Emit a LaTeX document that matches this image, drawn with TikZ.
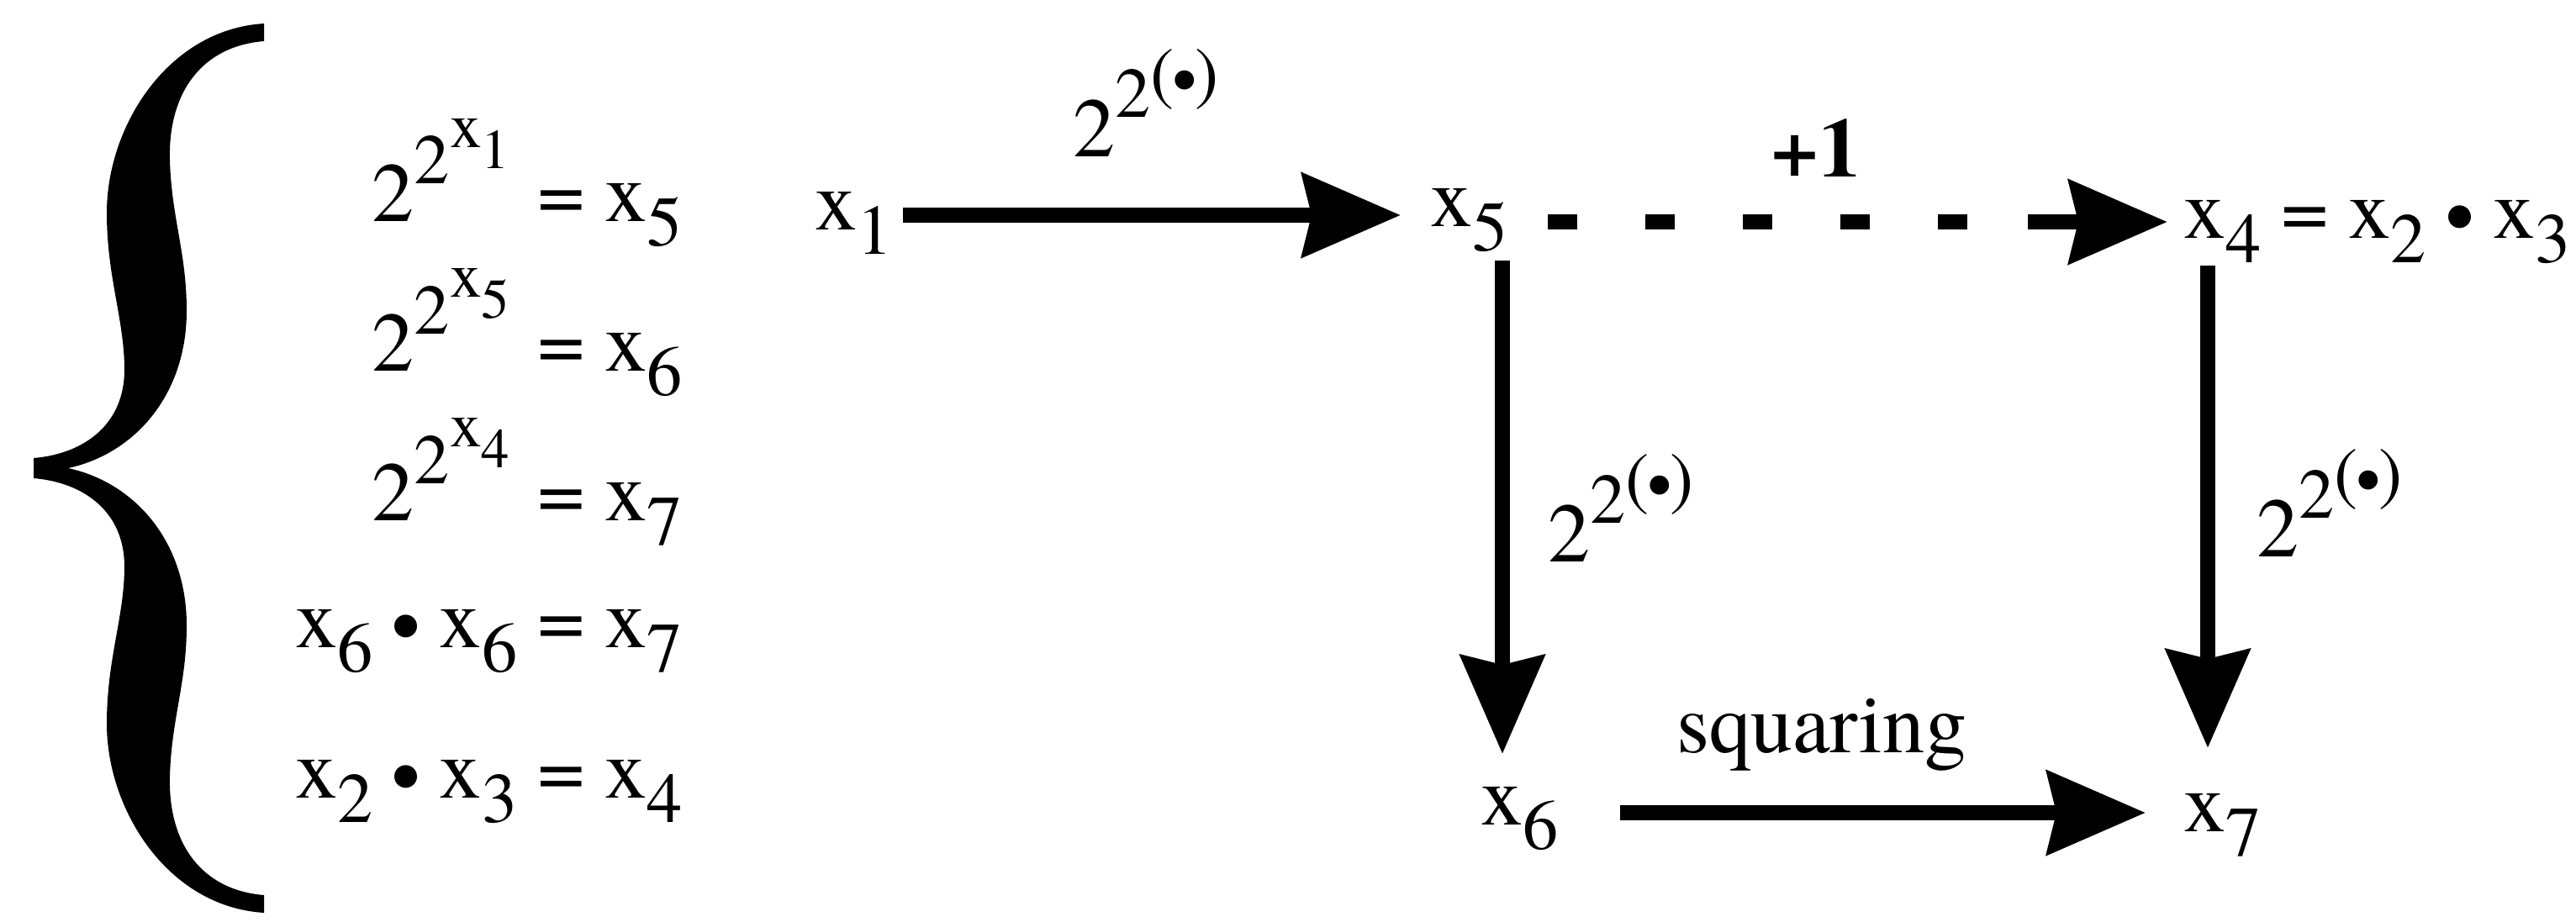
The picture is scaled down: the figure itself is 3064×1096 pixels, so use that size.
\documentclass[tikz,border=0pt]{standalone}
\usepackage{fontspec}
\IfFontExistsTF{texgyretermes-regular.otf}
  {\setmainfont{texgyretermes-regular.otf}[BoldFont=texgyretermes-bold.otf]}
  {\setmainfont{Liberation Serif}}
\usetikzlibrary{arrows.meta}
\newdimen\pxu \pxu=0.1mm
\newcommand{\fA}{\fontsize{28.5pt}{30pt}\selectfont}
\newcommand{\fB}{\fontsize{24pt}{26pt}\selectfont}
\newcommand{\fC}{\fontsize{21.5pt}{23pt}\selectfont}
\newcommand{\fD}{\fontsize{19pt}{21pt}\selectfont}
\newcommand{\vx}[1]{x\raisebox{-29\pxu}{\fB #1}}
\newcommand{\bul}{\raisebox{-8\pxu}{•}}
\newcommand{\tower}[1]{2\raisebox{44\pxu}{\fB 2\raisebox{44\pxu}{\fC x\raisebox{-25\pxu}{\fD #1}}}}
\newcommand{\tlabel}{2\raisebox{46\pxu}{\fB 2\raisebox{25\pxu}{(\kern-2\pxu\bul\kern-2\pxu)}}}
\tikzset{
  txt/.style={inner sep=0pt, outer sep=0pt, anchor=base west, font=\fA},
  eqrow/.style={inner sep=0pt, outer sep=0pt, anchor=base east, font=\fA},
  arr/.style={line width=1.8mm, -{Stealth[length=11.7mm, width=9.9mm, inset=1.1mm]}},
  dashline/.style={line width=1.8mm, dash pattern=on 3.5mm off 8.1mm}
}
\begin{document}
\begin{tikzpicture}[x=0.1mm, y=-0.1mm]
\useasboundingbox (0,0) rectangle (3064,1096);
% brace
\fill (40,545) .. controls (100,540) and (148,505) .. (148,440)
  .. controls (148,380) and (127,330) .. (127,253)
  .. controls (127,150) and (200,35) .. (314,28) -- (314,49)
  .. controls (240,55) and (200,110) .. (202,190)
  .. controls (204,260) and (222,300) .. (222,370)
  .. controls (222,470) and (160,540) .. (81,557)
  .. controls (160,574) and (222,644) .. (222,744)
  .. controls (222,814) and (204,854) .. (202,924)
  .. controls (200,1004) and (240,1059) .. (314,1065) -- (314,1086)
  .. controls (200,1079) and (127,964) .. (127,861)
  .. controls (127,784) and (148,734) .. (148,674)
  .. controls (148,609) and (100,574) .. (40,569) -- cycle;
% equations
\node[eqrow] (r1) at (812,263) {\tower{1}\hspace{33\pxu}=\hspace{24\pxu}\vx{5}};
\node[eqrow] (r2) at (812,441) {\tower{5}\hspace{33\pxu}=\hspace{24\pxu}\vx{6}};
\node[eqrow] (r3) at (812,619) {\tower{4}\hspace{33\pxu}=\hspace{24\pxu}\vx{7}};
\node[eqrow] (r4) at (812,770) {\vx{6}\hspace{22\pxu}\bul\hspace{22\pxu}\vx{6}\hspace{24\pxu}=\hspace{24\pxu}\vx{7}};
\node[eqrow] (r5) at (812,949) {\vx{2}\hspace{22\pxu}\bul\hspace{22\pxu}\vx{3}\hspace{24\pxu}=\hspace{24\pxu}\vx{4}};
% diagram nodes
\node[txt] (x1) at (969,273) {\vx{1}};
\node[txt] (x5) at (1701,269) {\vx{5}};
\node[txt] (x4) at (2597,283) {\vx{4}\hspace{24\pxu}=\hspace{24\pxu}\vx{2}\hspace{22\pxu}\bul\hspace{22\pxu}\vx{3}};
\node[txt] (x6) at (1761,981) {\vx{6}};
\node[txt] (x7) at (2597,989) {\vx{7}};
% labels
\node[txt] (l1) at (1276,186) {\tlabel};
\node[txt] (l2) at (2106,210) {\bfseries +1};
\node[txt] (l3) at (1841,668) {\tlabel};
\node[txt] (l4) at (2684,662) {\tlabel};
\node[txt] (l5) at (1994,895) {squaring};
% connectors
\draw[arr] ([shift={(105,-17)}]x1.base west) -- ([shift={(-35,-13)}]x5.base west);
\coordinate (dp) at ([shift={(-185,-19)}]x4.base west);
\draw[dashline] ([shift={(140,-5)}]x5.base west) -- (dp);
\draw[arr] (dp) -- ([shift={(-19,-19)}]x4.base west);
\draw[arr] ([shift={(86,41)}]x5.base west) -- ([shift={(26,-84)}]x6.base west);
\draw[arr] ([shift={(29,33)}]x4.base west) -- ([shift={(29,-99)}]x7.base west);
\draw[arr] ([shift={(166,-14)}]x6.base west) -- ([shift={(-45,-22)}]x7.base west);
\end{tikzpicture}
\end{document}
